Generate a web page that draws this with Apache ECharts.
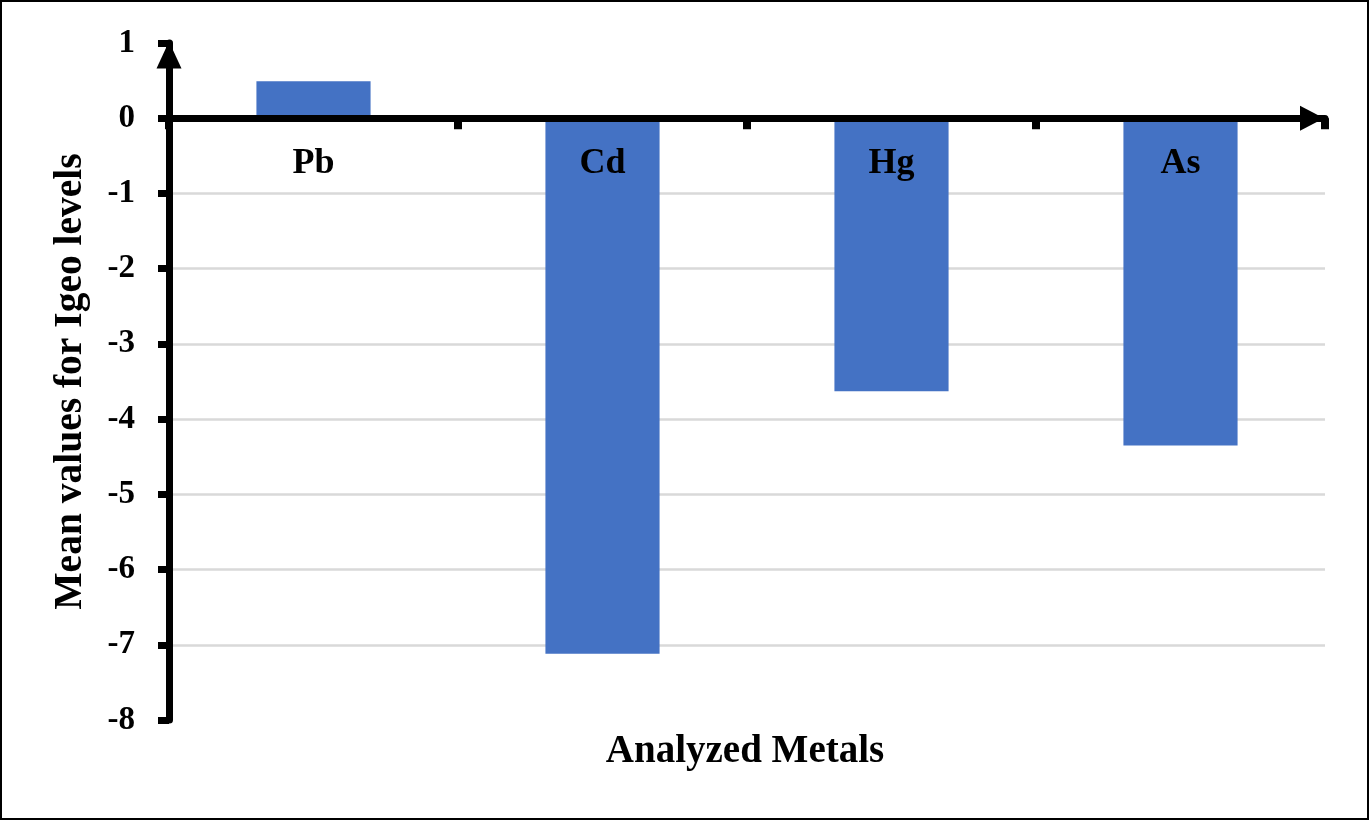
<!DOCTYPE html>
<html>
<head>
<meta charset="utf-8">
<script src="https://cdn.jsdelivr.net/npm/echarts@6/dist/echarts.min.js"></script>
<style>
html,body{margin:0;padding:0;background:#fff;}
#frame{width:1369px;height:820px;box-sizing:border-box;border:2px solid #000;position:relative;}
#chart{position:absolute;left:-2px;top:-2px;width:1369px;height:820px;}
</style>
</head>
<body>
<div id="frame"><div id="chart"></div></div>
<script>
const categories = ['Pb', 'Cd', 'Hg', 'As'];
const igeoValues = [0.49, -7.12, -3.63, -4.35];
const yTitle = 'Mean values for Igeo levels';
const xTitle = 'Analyzed Metals';

const font = 'Liberation Serif';
const gridTop = 43, gridBottom = 100, chartH = 820;
const plotH = chartH - gridTop - gridBottom;
const yMin = -8, yMax = 1;
// shift the top-positioned category axis down to the zero line
const zeroOffset = -plotH * (yMax - 0) / (yMax - yMin);

const chart = echarts.init(document.getElementById('chart'));
chart.setOption({
  animation: false,
  backgroundColor: 'transparent',
  grid: { left: 169, right: 44, top: gridTop, bottom: gridBottom },
  xAxis: {
    type: 'category',
    data: categories,
    boundaryGap: true,
    position: 'top',
    offset: zeroOffset,
    z: 10,
    axisLine: {
      onZero: false,
      lineStyle: { color: '#000', width: 7 },
      symbol: ['none', 'triangle'],
      symbolSize: [25, 24],
      symbolOffset: [0, -13]
    },
    axisTick: { show: true, inside: true, length: 11, lineStyle: { color: '#000', width: 8 } },
    axisLabel: { inside: true, color: '#000', fontFamily: font, fontWeight: 'bold', fontSize: 36, margin: 27 },
    splitLine: { show: false }
  },
  yAxis: {
    type: 'value',
    min: yMin, max: yMax, interval: 1,
    name: yTitle,
    nameLocation: 'middle',
    nameGap: 78,
    nameTextStyle: { color: '#000', fontFamily: font, fontWeight: 'bold', fontSize: 39.5 },
    axisLine: {
      show: true,
      lineStyle: { color: '#000', width: 7 },
      symbol: ['none', 'triangle'],
      symbolSize: [25, 27],
      symbolOffset: [0, -12]
    },
    axisTick: { show: true, length: 11, lineStyle: { color: '#000', width: 7 } },
    axisLabel: { color: '#000', fontFamily: font, fontWeight: 'bold', fontSize: 33, margin: 34 },
    splitLine: { show: true, showMinLine: false, showMaxLine: false, lineStyle: { color: '#d9d9d9', width: 2.5 } }
  },
  graphic: [{
    type: 'text', x: 745, y: 752,
    style: { text: xTitle, fill: '#000', font: 'bold 39px "Liberation Serif"', align: 'center', verticalAlign: 'middle' }
  }],
  series: [{
    type: 'bar',
    data: igeoValues,
    barWidth: '39.5%',
    itemStyle: { color: '#4472C4' },
    z: 2
  }]
});
</script>
</body>
</html>
